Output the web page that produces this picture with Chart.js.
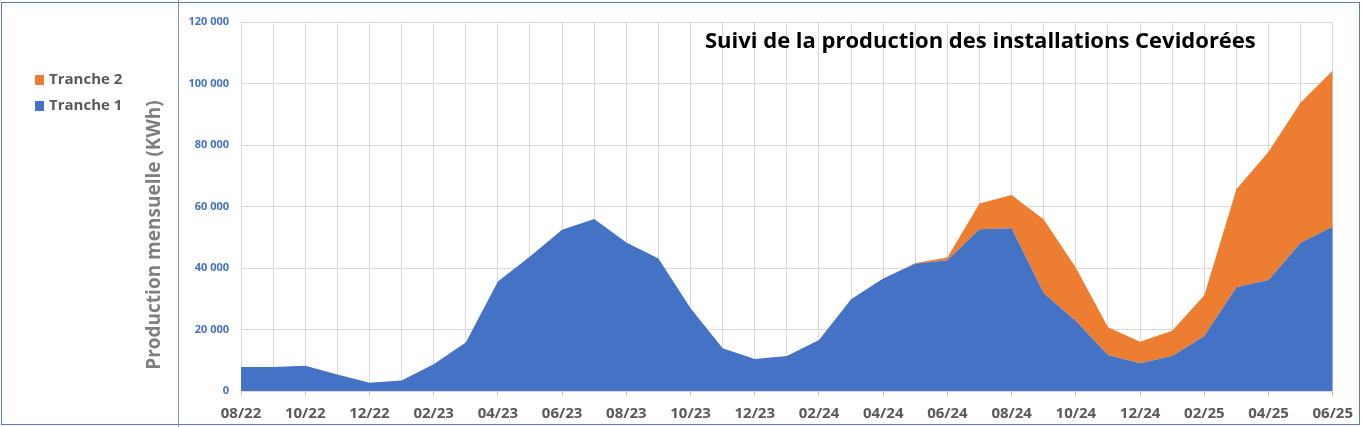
<!DOCTYPE html>
<html lang="fr">
<head>
<meta charset="utf-8">
<title>Suivi de la production des installations Cevidorées</title>
<script src="https://cdn.jsdelivr.net/npm/chart.js@4.4.1/dist/chart.umd.min.js"></script>
<style>
  html, body { margin: 0; padding: 0; background: #fff; }
  #wrap { position: relative; width: 1362px; height: 427px; overflow: hidden; }
  #frame { position: absolute; left: 1px; top: 2px; width: 1357px; height: 421px; border: 1px solid #5a7bb5; pointer-events: none; }
  #sep { position: absolute; left: 178px; top: 0; width: 1px; height: 427px; background: #8496b0; pointer-events: none; }
  canvas { position: absolute; left: 0; top: 0; }
</style>
</head>
<body>
<div id="wrap">
  <canvas id="chart"></canvas>
  <div id="sep"></div>
  <div id="frame"></div>
</div>
<script>
// mois de 08/22 à 06/25
const months = [
  '08/22', '09/22', '10/22', '11/22', '12/22',
  '01/23', '02/23', '03/23', '04/23', '05/23', '06/23', '07/23', '08/23', '09/23', '10/23', '11/23', '12/23',
  '01/24', '02/24', '03/24', '04/24', '05/24', '06/24', '07/24', '08/24', '09/24', '10/24', '11/24', '12/24',
  '01/25', '02/25', '03/25', '04/25', '05/25', '06/25'
];

// production mensuelle (kWh)
const tranche1 = [
  7800, 7800, 8200, 5400, 2700,
  3400, 8700, 15800, 35600, 43700, 52400, 55900, 48300, 43100, 26900, 13900, 10400,
  11400, 16600, 29800, 36600, 41400, 42500, 52600, 52900, 31800, 22800, 11700, 9000,
  11400, 17900, 33700, 36100, 48200, 53400
];
const tranche2 = [
  0, 0, 0, 0, 0,
  0, 0, 0, 0, 0, 0, 0, 0, 0, 0, 0, 0,
  0, 0, 0, 0, 200, 900, 8400, 10800, 24000, 17300, 9000, 7000,
  8200, 13200, 31900, 41700, 45600, 50800
];

const yTicks = [0, 20000, 40000, 60000, 80000, 100000, 120000];

const titleText = 'Suivi de la production des installations Cevidorées';
const yTitleText = 'Production mensuelle (KWh)';

const BLUE = '#4472C4';
const ORANGE = '#ED7D31';
const FONT = '"Open Sans", "Noto Sans", sans-serif';

function fmt(v) {
  return String(v).replace(/\B(?=(\d{3})+(?!\d))/g, ' ');
}

// titre, titre d'axe et légende dessinés sur le canvas
const decor = {
  id: 'decor',
  afterDraw(chart) {
    const ctx = chart.ctx;
    ctx.save();

    ctx.fillStyle = '#000';
    ctx.font = 'bold 22px ' + FONT;
    ctx.textAlign = 'left';
    ctx.textBaseline = 'middle';
    ctx.fillText(titleText, 705, 42);

    ctx.save();
    ctx.translate(155, 235);
    ctx.rotate(-Math.PI / 2);
    ctx.fillStyle = '#7f7f7f';
    ctx.font = 'bold 19px ' + FONT;
    ctx.textAlign = 'center';
    ctx.fillText(yTitleText, 0, 0);
    ctx.restore();

    // légende : Tranche 2 au-dessus de Tranche 1
    const ds = chart.data.datasets.slice().reverse();
    ctx.font = 'bold 15px ' + FONT;
    ctx.textAlign = 'left';
    ds.forEach((d, i) => {
      const y = 80 + i * 26;
      ctx.fillStyle = d.backgroundColor;
      ctx.fillRect(35, y - 5, 9, 10);
      ctx.fillStyle = '#595959';
      ctx.fillText(d.label, 49, y);
    });

    ctx.restore();
  }
};

const ctx = document.getElementById('chart').getContext('2d');
const chart = new Chart(ctx, {
  type: 'line',
  data: {
    labels: months,
    datasets: [
      {
        label: 'Tranche 1',
        data: tranche1,
        backgroundColor: BLUE,
        borderColor: BLUE,
        borderWidth: 0,
        pointRadius: 0,
        fill: 'origin'
      },
      {
        label: 'Tranche 2',
        data: tranche2,
        backgroundColor: ORANGE,
        borderColor: ORANGE,
        borderWidth: 0,
        pointRadius: 0,
        fill: '-1'
      }
    ]
  },
  options: {
    responsive: true,
    maintainAspectRatio: false,
    animation: false,
    layout: { padding: { left: 0, right: 28, top: 22, bottom: 0 } },
    plugins: {
      legend: { display: false },
      tooltip: { enabled: false }
    },
    scales: {
      x: {
        offset: false,
        afterFit: s => { s.height = 36; },
        grid: {
          color: '#d9d9d9',
          tickLength: 5,
          tickColor: c => (c.index % 2 === 0 ? '#bfbfbf' : 'rgba(0,0,0,0)')
        },
        border: { color: '#d9d9d9' },
        ticks: {
          autoSkip: false,
          maxRotation: 0,
          padding: 9,
          color: '#595959',
          font: { family: FONT, size: 15, weight: 'bold' },
          callback: (v, i) => (i % 2 === 0 ? months[i] : '')
        }
      },
      y: {
        stacked: true,
        min: yTicks[0],
        max: yTicks[yTicks.length - 1],
        afterFit: s => { s.width = 241; },
        afterBuildTicks: s => { s.ticks = yTicks.map(v => ({ value: v })); },
        grid: { color: '#d9d9d9', drawTicks: false },
        border: { color: '#d9d9d9' },
        ticks: {
          padding: 12,
          color: BLUE,
          font: { family: FONT, size: 11, weight: 'bold' },
          callback: v => fmt(v)
        }
      }
    }
  },
  plugins: [decor]
});
</script>
</body>
</html>
